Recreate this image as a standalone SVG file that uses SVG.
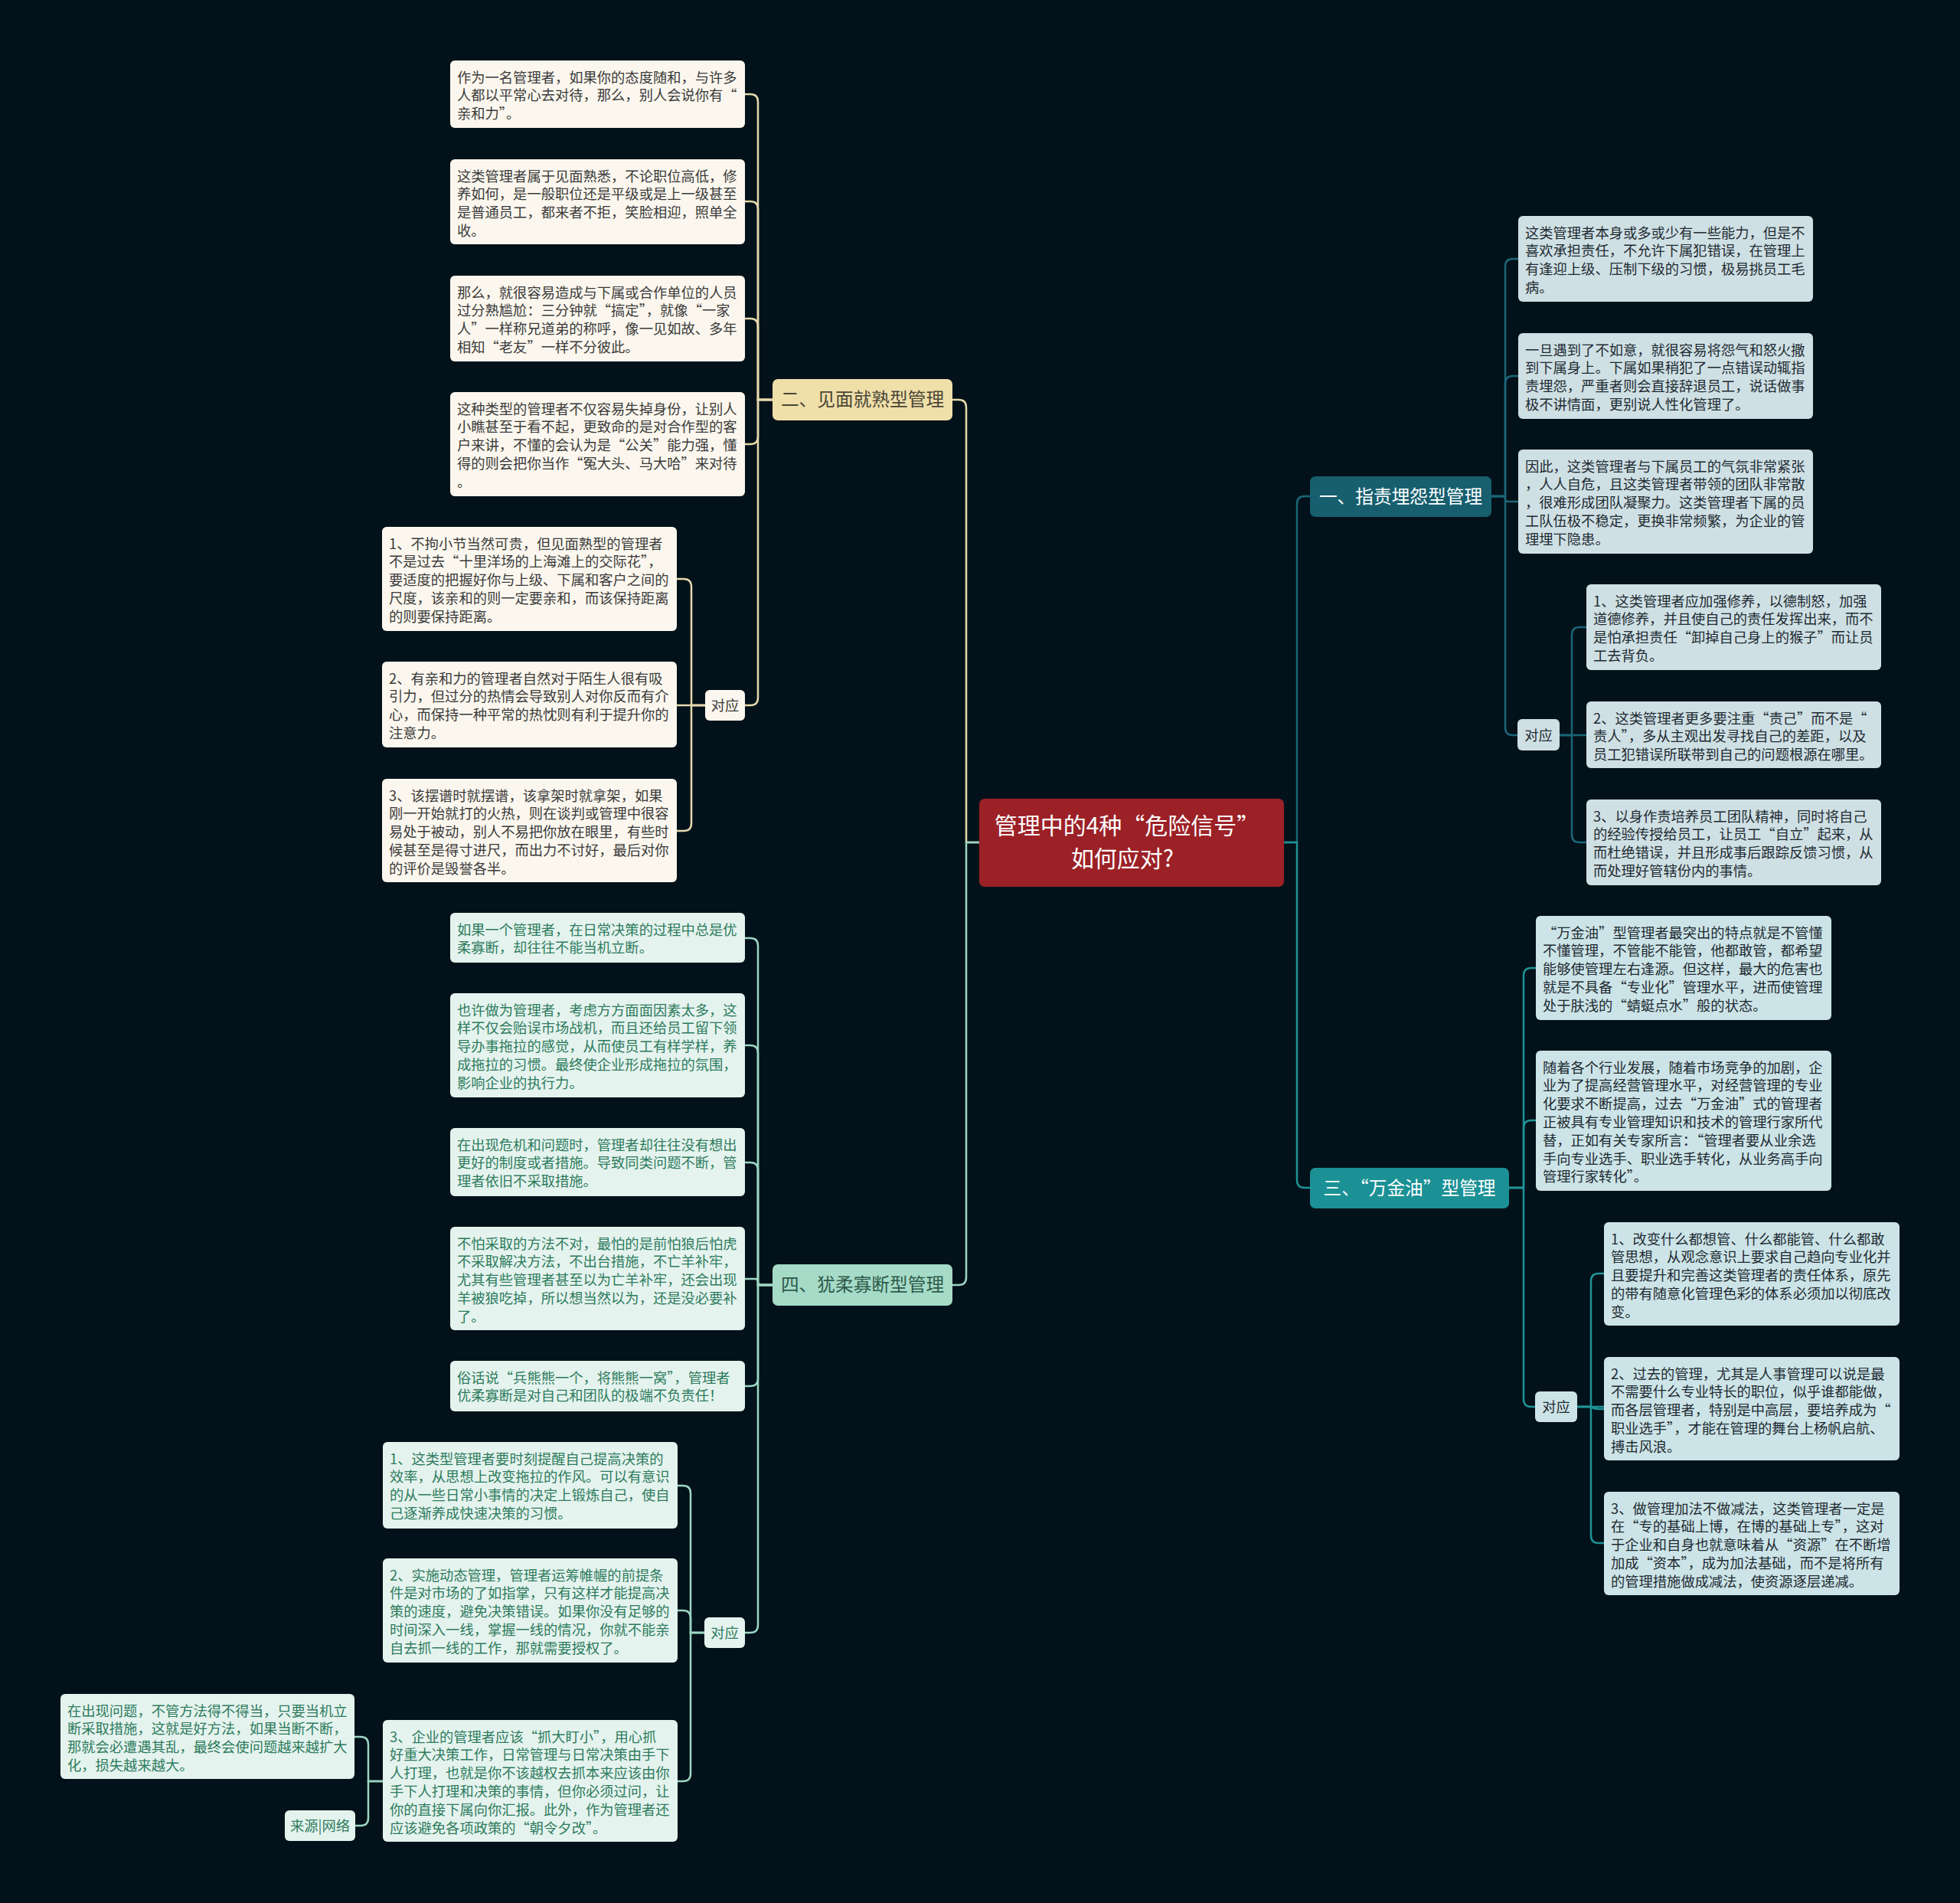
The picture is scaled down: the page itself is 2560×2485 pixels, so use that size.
<svg xmlns="http://www.w3.org/2000/svg" width="2560" height="2485" viewBox="0 0 2560 2485">
<style>
text{font-family:"Noto Sans CJK SC","Noto Sans",sans-serif;}
.t{font-size:18.3px;}
.tb{font-size:23.7px;}
.tc{font-size:30px;fill:#ffffff;}
.c2{fill:#fbf7ee;} .x2{fill:#3a3a3a;}
.c4{fill:#e5f3ee;} .x4{fill:#2d7b5d;}
.c1{fill:#cfe0e4;} .x1{fill:#1e2a32;}
.c3{fill:#cce4e7;} .x3{fill:#1e2a32;}
.l2{fill:none;stroke:#e6d9ad;stroke-width:2.5;}
.l4{fill:none;stroke:#9dd6c2;stroke-width:2.5;}
.l1{fill:none;stroke:#1b6677;stroke-width:2.5;}
.l3{fill:none;stroke:#1e9396;stroke-width:2.5;}
</style>
<rect x="0" y="0" width="2560" height="2485" fill="#03121a"/>
<g id="connectors">
<path class="l2" stroke-width="3" d="M1279,1100 H1262 V532 Q1262,522 1252,522 H1244"/>
<path class="l4" stroke-width="3" d="M1279,1100 H1262 V1668 Q1262,1678 1252,1678 H1244"/>
<path class="l1" stroke-width="3" d="M1677,1100 H1694 V658 Q1694,648 1704,648 H1711"/>
<path class="l3" stroke-width="3" d="M1677,1100 H1694 V1541 Q1694,1551 1704,1551 H1711"/>
<path class="l2" d="M1009,522 H990 V133 Q990,123 980,123 H973"/>
<path class="l2" d="M1009,522 H990 V273 Q990,263 980,263 H973"/>
<path class="l2" d="M1009,522 H990 V426 Q990,416 980,416 H973"/>
<path class="l2" d="M1009,522 H990 V570 Q990,580 980,580 H973"/>
<path class="l2" d="M1009,522 H990 V911 Q990,921 980,921 H973"/>
<path class="l2" d="M921,921 H903 V766 Q903,756 893,756 H884"/>
<path class="l2" d="M921,921 H884"/>
<path class="l2" d="M921,921 H903 V1075 Q903,1085 893,1085 H884"/>
<path class="l4" d="M1009,1678 H990 V1235 Q990,1225 980,1225 H973"/>
<path class="l4" d="M1009,1678 H990 V1375 Q990,1365 980,1365 H973"/>
<path class="l4" d="M1009,1678 H990 V1528 Q990,1518 980,1518 H973"/>
<path class="l4" d="M1009,1678 H994 Q990,1678 990,1674 Q990,1670 986,1670 H973"/>
<path class="l4" d="M1009,1678 H990 V1800 Q990,1810 980,1810 H973"/>
<path class="l4" d="M1009,1678 H990 V2122 Q990,2132 980,2132 H973"/>
<path class="l4" d="M920,2132 H902 V1950 Q902,1940 892,1940 H885"/>
<path class="l4" d="M920,2132 H902 V2113 Q902,2103 892,2103 H885"/>
<path class="l4" d="M920,2132 H902 V2316 Q902,2326 892,2326 H885"/>
<path class="l4" d="M500,2326 H481 V2278 Q481,2268 471,2268 H463"/>
<path class="l4" d="M500,2326 H481 V2374 Q481,2384 471,2384 H464"/>
<path class="l1" d="M1948,648 H1966 V348 Q1966,338 1976,338 H1983"/>
<path class="l1" d="M1948,648 H1966 V501 Q1966,491 1976,491 H1983"/>
<path class="l1" d="M1948,648 H1962 Q1966,648 1966,651.5 Q1966,655 1970,655 H1983"/>
<path class="l1" d="M1948,648 H1966 V950 Q1966,960 1976,960 H1982"/>
<path class="l1" d="M2037,960 H2053 V829 Q2053,819 2063,819 H2072"/>
<path class="l1" d="M2037,960 H2072"/>
<path class="l1" d="M2037,960 H2053 V1090 Q2053,1100 2063,1100 H2072"/>
<path class="l3" d="M1971,1551 H1990 V1274 Q1990,1264 2000,1264 H2006"/>
<path class="l3" d="M1971,1551 H1990 V1473 Q1990,1463 2000,1463 H2006"/>
<path class="l3" d="M1971,1551 H1990 V1827 Q1990,1837 2000,1837 H2005"/>
<path class="l3" d="M2060,1837 H2078 V1673 Q2078,1663 2088,1663 H2095"/>
<path class="l3" d="M2060,1837 H2095 M2078,1837 Q2082,1840 2088,1840 H2095"/>
<path class="l3" d="M2060,1837 H2078 V2005 Q2078,2015 2088,2015 H2095"/>
</g>

<g id="root">
<rect x="1279" y="1043" width="398" height="115" rx="7" fill="#9c2127"/>
<text class="tc" text-anchor="middle" x="1472" y="1088.5">管理中的4种“危险信号”</text>
<text class="tc" text-anchor="middle" x="1466" y="1131.5">如何应对?</text>
</g>

<g id="b2">
<rect x="1009" y="495" width="235" height="54" rx="7" fill="#efdfa9"/>
<text class="tb" text-anchor="middle" x="1126.5" y="530" fill="#4a4636">二、见面就熟型管理</text>
</g>
<g id="b4">
<rect x="1009" y="1651" width="235" height="54" rx="7" fill="#a5dbc7"/>
<text class="tb" text-anchor="middle" x="1126.5" y="1686" fill="#2f5a4b">四、犹柔寡断型管理</text>
</g>
<g id="b1">
<rect x="1711" y="622" width="237" height="53" rx="7" fill="#175f6f"/>
<text class="tb" text-anchor="middle" x="1829.5" y="656.5" fill="#ffffff">一、指责埋怨型管理</text>
</g>
<g id="b3">
<rect x="1711" y="1525" width="260" height="53" rx="7" fill="#1b9195"/>
<text class="tb" text-anchor="middle" x="1841" y="1559.5" fill="#ffffff">三、“万金油”型管理</text>
</g>

<g id="n2a"><rect class="c2" x="588" y="79" width="385" height="88" rx="6"/>
<text class="t x2" x="597" y="107.5"><tspan x="597">作为一名管理者，如果你的态度随和，与许多</tspan><tspan x="597" dy="23.8">人都以平常心去对待，那么，别人会说你有“</tspan><tspan x="597" dy="23.8">亲和力”。</tspan></text></g>
<g id="n2b"><rect class="c2" x="588" y="208" width="385" height="111" rx="6"/>
<text class="t x2" x="597" y="236.5"><tspan x="597">这类管理者属于见面熟悉，不论职位高低，修</tspan><tspan x="597" dy="23.8">养如何，是一般职位还是平级或是上一级甚至</tspan><tspan x="597" dy="23.8">是普通员工，都来者不拒，笑脸相迎，照单全</tspan><tspan x="597" dy="23.8">收。</tspan></text></g>
<g id="n2c"><rect class="c2" x="588" y="360" width="385" height="112" rx="6"/>
<text class="t x2" x="597" y="388.5"><tspan x="597">那么，就很容易造成与下属或合作单位的人员</tspan><tspan x="597" dy="23.8">过分熟尴尬：三分钟就“搞定”，就像“一家</tspan><tspan x="597" dy="23.8">人”一样称兄道弟的称呼，像一见如故、多年</tspan><tspan x="597" dy="23.8">相知“老友”一样不分彼此。</tspan></text></g>
<g id="n2d"><rect class="c2" x="588" y="512" width="385" height="136" rx="6"/>
<text class="t x2" x="597" y="540.5"><tspan x="597">这种类型的管理者不仅容易失掉身份，让别人</tspan><tspan x="597" dy="23.8">小瞧甚至于看不起，更致命的是对合作型的客</tspan><tspan x="597" dy="23.8">户来讲，不懂的会认为是“公关”能力强，懂</tspan><tspan x="597" dy="23.8">得的则会把你当作“冤大头、马大哈”来对待</tspan><tspan x="597" dy="23.8">。</tspan></text></g>
<g id="n2e"><rect class="c2" x="921" y="901" width="52" height="40" rx="6"/>
<text class="t x2" text-anchor="middle" x="947" y="927.5">对应</text></g>
<g id="n2e1"><rect class="c2" x="499" y="688" width="385" height="136" rx="6"/>
<text class="t x2" x="508" y="716.5"><tspan x="508">1、不拘小节当然可贵，但见面熟型的管理者</tspan><tspan x="508" dy="23.8">不是过去“十里洋场的上海滩上的交际花”，</tspan><tspan x="508" dy="23.8">要适度的把握好你与上级、下属和客户之间的</tspan><tspan x="508" dy="23.8">尺度，该亲和的则一定要亲和，而该保持距离</tspan><tspan x="508" dy="23.8">的则要保持距离。</tspan></text></g>
<g id="n2e2"><rect class="c2" x="499" y="864" width="385" height="112" rx="6"/>
<text class="t x2" x="508" y="892.5"><tspan x="508">2、有亲和力的管理者自然对于陌生人很有吸</tspan><tspan x="508" dy="23.8">引力，但过分的热情会导致别人对你反而有介</tspan><tspan x="508" dy="23.8">心，而保持一种平常的热忱则有利于提升你的</tspan><tspan x="508" dy="23.8">注意力。</tspan></text></g>
<g id="n2e3"><rect class="c2" x="499" y="1017" width="385" height="135" rx="6"/>
<text class="t x2" x="508" y="1045.5"><tspan x="508">3、该摆谱时就摆谱，该拿架时就拿架，如果</tspan><tspan x="508" dy="23.8">刚一开始就打的火热，则在谈判或管理中很容</tspan><tspan x="508" dy="23.8">易处于被动，别人不易把你放在眼里，有些时</tspan><tspan x="508" dy="23.8">候甚至是得寸进尺，而出力不讨好，最后对你</tspan><tspan x="508" dy="23.8">的评价是毁誉各半。</tspan></text></g>

<g id="n4a"><rect class="c4" x="588" y="1192" width="385" height="65" rx="6"/>
<text class="t x4" x="597" y="1220.5"><tspan x="597">如果一个管理者，在日常决策的过程中总是优</tspan><tspan x="597" dy="23.8">柔寡断，却往往不能当机立断。</tspan></text></g>
<g id="n4b"><rect class="c4" x="588" y="1297" width="385" height="136" rx="6"/>
<text class="t x4" x="597" y="1325.5"><tspan x="597">也许做为管理者，考虑方方面面因素太多，这</tspan><tspan x="597" dy="23.8">样不仅会贻误市场战机，而且还给员工留下领</tspan><tspan x="597" dy="23.8">导办事拖拉的感觉，从而使员工有样学样，养</tspan><tspan x="597" dy="23.8">成拖拉的习惯。最终使企业形成拖拉的氛围，</tspan><tspan x="597" dy="23.8">影响企业的执行力。</tspan></text></g>
<g id="n4c"><rect class="c4" x="588" y="1473" width="385" height="89" rx="6"/>
<text class="t x4" x="597" y="1501.5"><tspan x="597">在出现危机和问题时，管理者却往往没有想出</tspan><tspan x="597" dy="23.8">更好的制度或者措施。导致同类问题不断，管</tspan><tspan x="597" dy="23.8">理者依旧不采取措施。</tspan></text></g>
<g id="n4d"><rect class="c4" x="588" y="1602" width="385" height="135" rx="6"/>
<text class="t x4" x="597" y="1630.5"><tspan x="597">不怕采取的方法不对，最怕的是前怕狼后怕虎</tspan><tspan x="597" dy="23.8">不采取解决方法，不出台措施，不亡羊补牢，</tspan><tspan x="597" dy="23.8">尤其有些管理者甚至以为亡羊补牢，还会出现</tspan><tspan x="597" dy="23.8">羊被狼吃掉，所以想当然以为，还是没必要补</tspan><tspan x="597" dy="23.8">了。</tspan></text></g>
<g id="n4e"><rect class="c4" x="588" y="1777" width="385" height="66" rx="6"/>
<text class="t x4" x="597" y="1805.5"><tspan x="597">俗话说“兵熊熊一个，将熊熊一窝”，管理者</tspan><tspan x="597" dy="23.8">优柔寡断是对自己和团队的极端不负责任！</tspan></text></g>
<g id="n4f"><rect class="c4" x="920" y="2112" width="53" height="40" rx="6"/>
<text class="t x4" text-anchor="middle" x="946.5" y="2138.5">对应</text></g>
<g id="n4f1"><rect class="c4" x="500" y="1883" width="385" height="113" rx="6"/>
<text class="t x4" x="509" y="1911.5"><tspan x="509">1、这类型管理者要时刻提醒自己提高决策的</tspan><tspan x="509" dy="23.8">效率，从思想上改变拖拉的作风。可以有意识</tspan><tspan x="509" dy="23.8">的从一些日常小事情的决定上锻炼自己，使自</tspan><tspan x="509" dy="23.8">己逐渐养成快速决策的习惯。</tspan></text></g>
<g id="n4f2"><rect class="c4" x="500" y="2035" width="385" height="136" rx="6"/>
<text class="t x4" x="509" y="2063.5"><tspan x="509">2、实施动态管理，管理者运筹帷幄的前提条</tspan><tspan x="509" dy="23.8">件是对市场的了如指掌，只有这样才能提高决</tspan><tspan x="509" dy="23.8">策的速度，避免决策错误。如果你没有足够的</tspan><tspan x="509" dy="23.8">时间深入一线，掌握一线的情况，你就不能亲</tspan><tspan x="509" dy="23.8">自去抓一线的工作，那就需要授权了。</tspan></text></g>
<g id="n4f3"><rect class="c4" x="500" y="2246" width="385" height="159" rx="6"/>
<text class="t x4" x="509" y="2274.5"><tspan x="509">3、企业的管理者应该“抓大盯小”，用心抓</tspan><tspan x="509" dy="23.8">好重大决策工作，日常管理与日常决策由手下</tspan><tspan x="509" dy="23.8">人打理，也就是你不该越权去抓本来应该由你</tspan><tspan x="509" dy="23.8">手下人打理和决策的事情，但你必须过问，让</tspan><tspan x="509" dy="23.8">你的直接下属向你汇报。此外，作为管理者还</tspan><tspan x="509" dy="23.8">应该避免各项政策的“朝令夕改”。</tspan></text></g>
<g id="n4g1"><rect class="c4" x="79" y="2212" width="384" height="111" rx="6"/>
<text class="t x4" x="88" y="2240.5"><tspan x="88">在出现问题，不管方法得不得当，只要当机立</tspan><tspan x="88" dy="23.8">断采取措施，这就是好方法，如果当断不断，</tspan><tspan x="88" dy="23.8">那就会必遭遇其乱，最终会使问题越来越扩大</tspan><tspan x="88" dy="23.8">化，损失越来越大。</tspan></text></g>
<g id="n4g2"><rect class="c4" x="372" y="2364" width="92" height="40" rx="6"/>
<text class="t x4" text-anchor="middle" x="418" y="2390.5">来源|网络</text></g>

<g id="n1a"><rect class="c1" x="1983" y="282" width="385" height="112" rx="6"/>
<text class="t x1" x="1992" y="310.5"><tspan x="1992">这类管理者本身或多或少有一些能力，但是不</tspan><tspan x="1992" dy="23.8">喜欢承担责任，不允许下属犯错误，在管理上</tspan><tspan x="1992" dy="23.8">有逢迎上级、压制下级的习惯，极易挑员工毛</tspan><tspan x="1992" dy="23.8">病。</tspan></text></g>
<g id="n1b"><rect class="c1" x="1983" y="435" width="385" height="112" rx="6"/>
<text class="t x1" x="1992" y="463.5"><tspan x="1992">一旦遇到了不如意，就很容易将怨气和怒火撒</tspan><tspan x="1992" dy="23.8">到下属身上。下属如果稍犯了一点错误动辄指</tspan><tspan x="1992" dy="23.8">责埋怨，严重者则会直接辞退员工，说话做事</tspan><tspan x="1992" dy="23.8">极不讲情面，更别说人性化管理了。</tspan></text></g>
<g id="n1c"><rect class="c1" x="1983" y="587" width="385" height="136" rx="6"/>
<text class="t x1" x="1992" y="615.5"><tspan x="1992">因此，这类管理者与下属员工的气氛非常紧张</tspan><tspan x="1992" dy="23.8">，人人自危，且这类管理者带领的团队非常散</tspan><tspan x="1992" dy="23.8">，很难形成团队凝聚力。这类管理者下属的员</tspan><tspan x="1992" dy="23.8">工队伍极不稳定，更换非常频繁，为企业的管</tspan><tspan x="1992" dy="23.8">理埋下隐患。</tspan></text></g>
<g id="n1d"><rect class="c1" x="1982" y="939" width="55" height="41" rx="6"/>
<text class="t x1" text-anchor="middle" x="2009.5" y="966.5">对应</text></g>
<g id="n1d1"><rect class="c1" x="2072" y="763" width="385" height="112" rx="6"/>
<text class="t x1" x="2081" y="791.5"><tspan x="2081">1、这类管理者应加强修养，以德制怒，加强</tspan><tspan x="2081" dy="23.8">道德修养，并且使自己的责任发挥出来，而不</tspan><tspan x="2081" dy="23.8">是怕承担责任“卸掉自己身上的猴子”而让员</tspan><tspan x="2081" dy="23.8">工去背负。</tspan></text></g>
<g id="n1d2"><rect class="c1" x="2072" y="916" width="385" height="87" rx="6"/>
<text class="t x1" x="2081" y="944.5"><tspan x="2081">2、这类管理者更多要注重“责己”而不是“</tspan><tspan x="2081" dy="23.8">责人”，多从主观出发寻找自己的差距，以及</tspan><tspan x="2081" dy="23.8">员工犯错误所联带到自己的问题根源在哪里。</tspan></text></g>
<g id="n1d3"><rect class="c1" x="2072" y="1044" width="385" height="112" rx="6"/>
<text class="t x1" x="2081" y="1072.5"><tspan x="2081">3、以身作责培养员工团队精神，同时将自己</tspan><tspan x="2081" dy="23.8">的经验传授给员工，让员工“自立”起来，从</tspan><tspan x="2081" dy="23.8">而杜绝错误，并且形成事后跟踪反馈习惯，从</tspan><tspan x="2081" dy="23.8">而处理好管辖份内的事情。</tspan></text></g>

<g id="n3a"><rect class="c3" x="2006" y="1196" width="386" height="136" rx="6"/>
<text class="t x3" x="2015" y="1224.5"><tspan x="2015">“万金油”型管理者最突出的特点就是不管懂</tspan><tspan x="2015" dy="23.8">不懂管理，不管能不能管，他都敢管，都希望</tspan><tspan x="2015" dy="23.8">能够使管理左右逢源。但这样，最大的危害也</tspan><tspan x="2015" dy="23.8">就是不具备“专业化”管理水平，进而使管理</tspan><tspan x="2015" dy="23.8">处于肤浅的“蜻蜓点水”般的状态。</tspan></text></g>
<g id="n3b"><rect class="c3" x="2006" y="1372" width="386" height="183" rx="6"/>
<text class="t x3" x="2015" y="1400.5"><tspan x="2015">随着各个行业发展，随着市场竞争的加剧，企</tspan><tspan x="2015" dy="23.8">业为了提高经营管理水平，对经营管理的专业</tspan><tspan x="2015" dy="23.8">化要求不断提高，过去“万金油”式的管理者</tspan><tspan x="2015" dy="23.8">正被具有专业管理知识和技术的管理行家所代</tspan><tspan x="2015" dy="23.8">替，正如有关专家所言：“管理者要从业余选</tspan><tspan x="2015" dy="23.8">手向专业选手、职业选手转化，从业务高手向</tspan><tspan x="2015" dy="23.8">管理行家转化”。</tspan></text></g>
<g id="n3c"><rect class="c3" x="2005" y="1817" width="55" height="40" rx="6"/>
<text class="t x3" text-anchor="middle" x="2032.5" y="1843.5">对应</text></g>
<g id="n3c1"><rect class="c3" x="2095" y="1596" width="386" height="135" rx="6"/>
<text class="t x3" x="2104" y="1624.5"><tspan x="2104">1、改变什么都想管、什么都能管、什么都敢</tspan><tspan x="2104" dy="23.8">管思想，从观念意识上要求自己趋向专业化并</tspan><tspan x="2104" dy="23.8">且要提升和完善这类管理者的责任体系，原先</tspan><tspan x="2104" dy="23.8">的带有随意化管理色彩的体系必须加以彻底改</tspan><tspan x="2104" dy="23.8">变。</tspan></text></g>
<g id="n3c2"><rect class="c3" x="2095" y="1772" width="386" height="135" rx="6"/>
<text class="t x3" x="2104" y="1800.5"><tspan x="2104">2、过去的管理，尤其是人事管理可以说是最</tspan><tspan x="2104" dy="23.8">不需要什么专业特长的职位，似乎谁都能做，</tspan><tspan x="2104" dy="23.8">而各层管理者，特别是中高层，要培养成为“</tspan><tspan x="2104" dy="23.8">职业选手”，才能在管理的舞台上杨帆启航、</tspan><tspan x="2104" dy="23.8">搏击风浪。</tspan></text></g>
<g id="n3c3"><rect class="c3" x="2095" y="1948" width="386" height="135" rx="6"/>
<text class="t x3" x="2104" y="1976.5"><tspan x="2104">3、做管理加法不做减法，这类管理者一定是</tspan><tspan x="2104" dy="23.8">在“专的基础上博，在博的基础上专”，这对</tspan><tspan x="2104" dy="23.8">于企业和自身也就意味着从“资源”在不断增</tspan><tspan x="2104" dy="23.8">加成“资本”，成为加法基础，而不是将所有</tspan><tspan x="2104" dy="23.8">的管理措施做成减法，使资源逐层递减。</tspan></text></g>
</svg>
